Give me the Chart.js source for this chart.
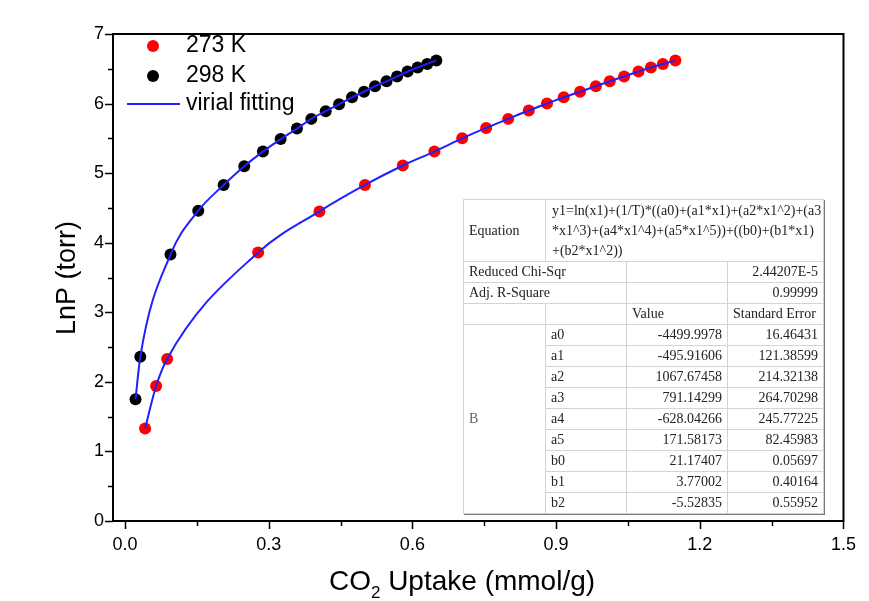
<!DOCTYPE html>
<html>
<head>
<meta charset="utf-8">
<script src="https://cdn.jsdelivr.net/npm/chart.js@4/dist/chart.umd.min.js"></script>
<style>
  html, body { margin: 0; padding: 0; background: #fff; }
  #wrap { position: relative; width: 869px; height: 601px; }
  #fitTable {
    position: absolute; left: 463px; top: 199px;
    border-collapse: collapse; table-layout: fixed;
    font: 14px "Liberation Serif", "Times New Roman", serif; color: #222;
    background: #fff; border: 1px solid #8a8a8a;
    box-shadow: 1px 1px 0 #777;
  }
  #fitTable td { border: 1px solid #d4d4d4; padding: 0 5px; height: 20px; line-height: 20px; white-space: nowrap; overflow: visible; }
  #fitTable td.num { text-align: right; }
  #fitTable td.eq { height: 60px; padding: 1px 0 0 6px; vertical-align: top; }
  #fitTable td.grp { color: #666; }
</style>
</head>
<body>
<div id="wrap">
  <canvas id="isoChart" width="869" height="601"></canvas>
  <table id="fitTable"></table>
</div>
<script>
// measured points, CO2 uptake (mmol/g) vs ln P (torr)
var uptake273 = [0.042, 0.065, 0.088, 0.278, 0.406, 0.501, 0.580, 0.646, 0.704, 0.754, 0.800,
                 0.843, 0.881, 0.916, 0.950, 0.983, 1.012, 1.042, 1.072, 1.098, 1.123, 1.149];
var lnP273 = [1.33, 1.94, 2.33, 3.86, 4.45, 4.83, 5.11, 5.31, 5.50, 5.65, 5.78,
              5.90, 6.00, 6.09, 6.17, 6.25, 6.32, 6.39, 6.46, 6.52, 6.57, 6.62];

var uptake298 = [0.022, 0.032, 0.095, 0.153, 0.206, 0.249, 0.288, 0.325, 0.359, 0.389, 0.419,
                 0.447, 0.474, 0.499, 0.522, 0.546, 0.568, 0.590, 0.611, 0.631, 0.650];
var lnP298 = [1.75, 2.36, 3.83, 4.46, 4.83, 5.10, 5.31, 5.49, 5.64, 5.78, 5.89,
              5.99, 6.09, 6.17, 6.25, 6.32, 6.39, 6.46, 6.52, 6.57, 6.62];

// axis ticks
var xMajorTicks = [0, 0.3, 0.6, 0.9, 1.2, 1.5];
var xMinorTicks = [0.15, 0.45, 0.75, 1.05, 1.35];
var yMajorTicks = [0, 1, 2, 3, 4, 5, 6, 7];
var yMinorTicks = [0.5, 1.5, 2.5, 3.5, 4.5, 5.5, 6.5];

// fit report table
var equationLines = ["y1=ln(x1)+(1/T)*((a0)+(a1*x1)+(a2*x1^2)+(a3",
                     "*x1^3)+(a4*x1^4)+(a5*x1^5))+((b0)+(b1*x1)",
                     "+(b2*x1^2))"];
var chiSqr = "2.44207E-5";
var adjR2 = "0.99999";
var paramNames = ["a0", "a1", "a2", "a3", "a4", "a5", "b0", "b1", "b2"];
var paramValues = ["-4499.9978", "-495.91606", "1067.67458", "791.14299", "-628.04266",
                   "171.58173", "21.17407", "3.77002", "-5.52835"];
var paramErrors = ["16.46431", "121.38599", "214.32138", "264.70298", "245.77225",
                   "82.45983", "0.05697", "0.40164", "0.55952"];

function toPoints(xs, ys) {
  return xs.map(function (v, i) { return { x: v, y: ys[i] }; });
}

// build the table
var rows = [];
rows.push('<colgroup><col style="width:82px"><col style="width:81px"><col style="width:101px"><col style="width:96px"></colgroup>');
rows.push('<tr><td>Equation</td><td class="eq" colspan="3">' + equationLines.join("<br>") + '</td></tr>');
rows.push('<tr><td colspan="2">Reduced Chi-Sqr</td><td></td><td class="num">' + chiSqr + '</td></tr>');
rows.push('<tr><td colspan="2">Adj. R-Square</td><td></td><td class="num">' + adjR2 + '</td></tr>');
rows.push('<tr><td></td><td></td><td>Value</td><td>Standard Error</td></tr>');
paramNames.forEach(function (p, i) {
  var first = i === 0 ? '<td class="grp" rowspan="' + paramNames.length + '">B</td>' : '';
  rows.push('<tr>' + first + '<td>' + p + '</td><td class="num">' + paramValues[i] +
            '</td><td class="num">' + paramErrors[i] + '</td></tr>');
});
document.getElementById("fitTable").innerHTML = rows.join("");

var FONT = '"Liberation Sans", Arial, sans-serif';

// frame, outward ticks, axis titles and legend
var decor = {
  id: "decor",
  afterDraw: function (chart) {
    var ctx = chart.ctx, a = chart.chartArea;
    var x = chart.scales.x, y = chart.scales.y;
    ctx.save();
    ctx.strokeStyle = "#000";
    ctx.lineWidth = 2;
    ctx.strokeRect(a.left, a.top, a.right - a.left, a.bottom - a.top);

    ctx.lineWidth = 1.5;
    ctx.beginPath();
    xMajorTicks.forEach(function (v) {
      var px = Math.round(x.getPixelForValue(v)) + 0.5;
      ctx.moveTo(px, a.bottom); ctx.lineTo(px, a.bottom + 8);
    });
    xMinorTicks.forEach(function (v) {
      var px = Math.round(x.getPixelForValue(v)) + 0.5;
      ctx.moveTo(px, a.bottom); ctx.lineTo(px, a.bottom + 5);
    });
    yMajorTicks.forEach(function (v) {
      var py = Math.round(y.getPixelForValue(v)) + 0.5;
      ctx.moveTo(a.left, py); ctx.lineTo(a.left - 8, py);
    });
    yMinorTicks.forEach(function (v) {
      var py = Math.round(y.getPixelForValue(v)) + 0.5;
      ctx.moveTo(a.left, py); ctx.lineTo(a.left - 5, py);
    });
    ctx.stroke();

    // axis titles
    ctx.fillStyle = "#000";
    ctx.textBaseline = "middle";
    var big = "28px " + FONT, small = "17px " + FONT;
    var tx = 462, ty = 582;
    var rest = " Uptake (mmol/g)";
    ctx.font = big;
    var w1 = ctx.measureText("CO").width;
    var w3 = ctx.measureText(rest).width;
    ctx.font = small;
    var w2 = ctx.measureText("2").width;
    var sx = tx - (w1 + w2 + w3) / 2;
    ctx.textAlign = "left";
    ctx.font = big;
    ctx.fillText("CO", sx, ty);
    ctx.font = small;
    ctx.fillText("2", sx + w1, ty + 11);
    ctx.font = big;
    ctx.fillText(rest, sx + w1 + w2, ty);

    ctx.font = "27px " + FONT;
    ctx.save();
    ctx.translate(68, 278);
    ctx.rotate(-Math.PI / 2);
    ctx.textAlign = "center";
    ctx.fillText("LnP (torr)", 0, 0);
    ctx.restore();

    // legend
    ctx.font = "23px " + FONT;
    ctx.textAlign = "left";
    ctx.fillStyle = "#ff0000";
    ctx.beginPath(); ctx.arc(153, 46, 6, 0, Math.PI * 2); ctx.fill();
    ctx.fillStyle = "#000";
    ctx.beginPath(); ctx.arc(153, 76, 6, 0, Math.PI * 2); ctx.fill();
    ctx.strokeStyle = "#1f1fff";
    ctx.lineWidth = 2;
    ctx.beginPath(); ctx.moveTo(127, 104); ctx.lineTo(180, 104); ctx.stroke();
    ctx.fillStyle = "#000";
    ctx.fillText("273 K", 186, 46);
    ctx.fillText("298 K", 186, 76);
    ctx.fillText("virial fitting", 186, 104);
    ctx.restore();
  }
};

var ctx = document.getElementById("isoChart").getContext("2d");
var isoChart = new Chart(ctx, {
  type: "scatter",
  data: {
    datasets: [
      {
        label: "virial fitting 273 K",
        data: toPoints(uptake273, lnP273),
        showLine: true,
        borderColor: "#1f1fff",
        borderWidth: 2,
        pointRadius: 0,
        cubicInterpolationMode: "monotone",
        order: 0,
      },
      {
        label: "virial fitting 298 K",
        data: toPoints(uptake298, lnP298),
        showLine: true,
        borderColor: "#1f1fff",
        borderWidth: 2,
        pointRadius: 0,
        cubicInterpolationMode: "monotone",
        order: 0,
      },
      {
        label: "273 K",
        data: toPoints(uptake273, lnP273),
        pointRadius: 6,
        pointBackgroundColor: "#ff0000",
        pointBorderWidth: 0,
        order: 1,
      },
      {
        label: "298 K",
        data: toPoints(uptake298, lnP298),
        pointRadius: 6,
        pointBackgroundColor: "#000",
        pointBorderWidth: 0,
        order: 1,
      },
    ],
  },
  options: {
    responsive: false,
    animation: false,
    devicePixelRatio: 1,
    layout: { padding: { top: 34, right: 19, left: 0, bottom: 0 } },
    plugins: { legend: { display: false }, tooltip: { enabled: false } },
    scales: {
      x: {
        type: "linear",
        min: -0.025,
        max: 1.5,
        afterBuildTicks: function (s) { s.ticks = xMajorTicks.map(function (v) { return { value: v }; }); },
        afterFit: function (s) { s.height = 80; },
        grid: { display: false, drawTicks: false },
        border: { display: false },
        ticks: {
          padding: 13,
          color: "#000",
          font: { family: FONT, size: 18 },
          maxRotation: 0,
          callback: function (v) { return v.toFixed(1); },
        },
      },
      y: {
        type: "linear",
        min: 0,
        max: 7,
        afterBuildTicks: function (s) { s.ticks = yMajorTicks.map(function (v) { return { value: v }; }); },
        afterFit: function (s) { s.width = 113; },
        grid: { display: false, drawTicks: false },
        border: { display: false },
        ticks: {
          padding: 9,
          color: "#000",
          font: { family: FONT, size: 18 },
          callback: function (v) { return String(v); },
        },
      },
    },
  },
  plugins: [decor],
});
</script>
</body>
</html>
